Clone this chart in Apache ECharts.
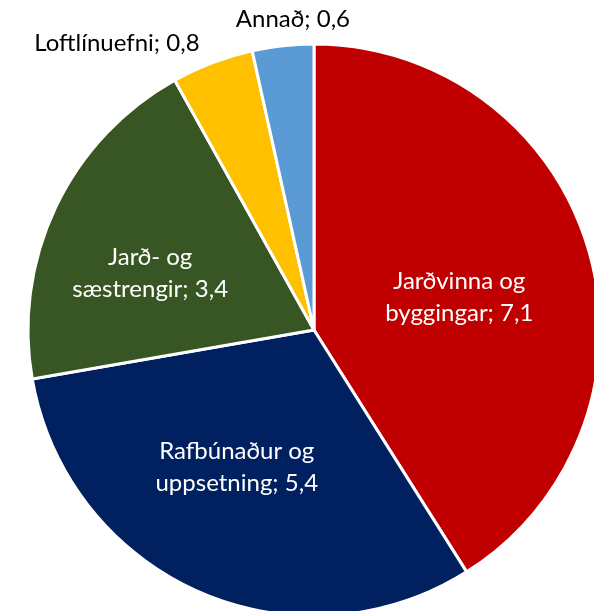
<!DOCTYPE html>
<html>
<head>
<meta charset="utf-8">
<script src="https://cdn.jsdelivr.net/npm/echarts@6/dist/echarts.min.js"></script>
<style>
  html, body { margin: 0; padding: 0; background: #fff; }
  #chart { width: 594px; height: 611px; }
</style>
</head>
<body>
<div id="chart"></div>
<script>
// Kostnaðarskipting (clockwise from the top)
const categories = ['Jarðvinna og\nbyggingar', 'Rafbúnaður og\nuppsetning', 'Jarð- og\nsæstrengir', 'Loftlínuefni', 'Annað'];
const values = [7.1, 5.4, 3.4, 0.8, 0.6];
const colors = ['#C00000', '#002060', '#375623', '#FFC000', '#5B9BD5'];
const insideCount = 3;

const fmt = v => String(v).replace('.', ',');

const chart = echarts.init(document.getElementById('chart'));

const data = categories.map((name, i) => {
  const inside = i < insideCount;
  return {
    name: name,
    value: values[i],
    itemStyle: { color: colors[i] },
    label: inside
      ? { position: 'inside', color: '#fff' }
      : { position: 'outside', color: '#000', overflow: 'none' },
    labelLine: { show: false, length: 8, length2: 0 }
  };
});

// small nudges so the labels sit where they read best
const labelShift = [[5, 8], [-18, 4], [-32, 6], [27, -28], [73, -18]];

chart.setOption({
  animation: false,
  series: [{
    type: 'pie',
    center: [314, 330],
    radius: [0, 286],
    startAngle: 90,
    clockwise: true,
    data: data,
    itemStyle: { borderColor: '#fff', borderWidth: 3 },
    label: {
      formatter: p => p.name + '; ' + fmt(p.value),
      fontFamily: 'Lato',
      fontSize: 24,
      lineHeight: 32,
      align: 'center',
      overflow: 'none'
    },
    labelLayout: function (params) {
      const s = labelShift[params.dataIndex];
      return { dx: s[0], dy: s[1] };
    },
    emphasis: { disabled: true }
  }]
});
</script>
</body>
</html>
